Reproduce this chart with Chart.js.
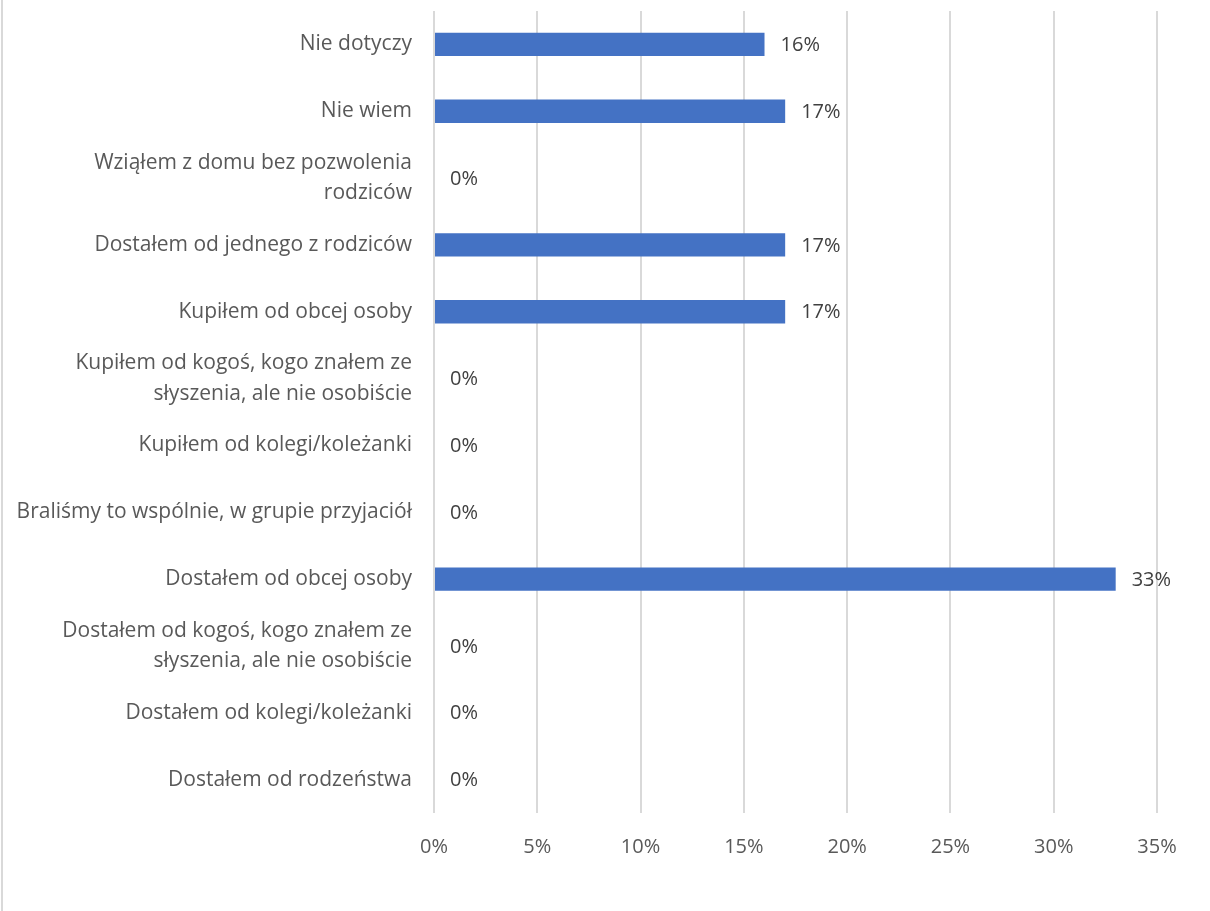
<!DOCTYPE html>
<html>
<head>
<meta charset="utf-8">
<script src="https://cdn.jsdelivr.net/npm/chart.js@4"></script>
<style>
  body { margin: 0; background: #fff; }
  #wrap { position: relative; width: 1210px; height: 911px; }
  #edge { position: absolute; left: 1px; top: 0; width: 2px; height: 911px; background: #d9d9d9; }
</style>
</head>
<body>
<div id="wrap">
  <canvas id="chart" width="1210" height="911"></canvas>
  <div id="edge"></div>
</div>
<script>
const categories = [
  "Nie dotyczy",
  "Nie wiem",
  ["Wziąłem z domu bez pozwolenia", "rodziców"],
  "Dostałem od jednego z rodziców",
  "Kupiłem od obcej osoby",
  ["Kupiłem od kogoś, kogo znałem ze", "słyszenia, ale nie osobiście"],
  "Kupiłem od kolegi/koleżanki",
  "Braliśmy to wspólnie, w grupie przyjaciół",
  "Dostałem od obcej osoby",
  ["Dostałem od kogoś, kogo znałem ze", "słyszenia, ale nie osobiście"],
  "Dostałem od kolegi/koleżanki",
  "Dostałem od rodzeństwa"
];
const values = [16, 17, 0, 17, 17, 0, 0, 0, 33, 0, 0, 0];
const xTicks = [0, 5, 10, 15, 20, 25, 30, 35];

const FONT = "'Open Sans', sans-serif";

// value labels at the end of each bar
const valueLabels = {
  id: "valueLabels",
  afterDatasetsDraw(chart) {
    const ctx = chart.ctx;
    const meta = chart.getDatasetMeta(0);
    ctx.save();
    ctx.font = "20px " + FONT;
    ctx.fillStyle = "#404040";
    ctx.textAlign = "left";
    ctx.textBaseline = "middle";
    meta.data.forEach((bar, i) => {
      ctx.fillText(values[i] + "%", bar.x + 16, bar.y + 1);
    });
    ctx.restore();
  }
};

new Chart(document.getElementById("chart"), {
  type: "bar",
  data: {
    labels: categories,
    datasets: [{
      data: values,
      backgroundColor: "#4472C4",
      borderWidth: 0,
      categoryPercentage: 1,
      barPercentage: 0.35
    }]
  },
  options: {
    indexAxis: "y",
    responsive: false,
    animation: false,
    layout: { padding: { top: 11, right: 53, bottom: 30, left: 0 } },
    plugins: { legend: { display: false }, tooltip: { enabled: false } },
    scales: {
      x: {
        min: 0,
        max: 35,
        afterBuildTicks: (scale) => { scale.ticks = xTicks.map(v => ({ value: v })); },
        grid: { color: "#d9d9d9", lineWidth: 2, drawTicks: false },
        border: { display: false },
        ticks: {
          padding: 22,
          color: "#595959",
          maxRotation: 0,
          font: { family: FONT, size: 20 },
          callback: (v) => v + "%"
        }
      },
      y: {
        grid: { display: false, drawTicks: false },
        border: { display: false },
        afterFit: (scale) => {
          scale.width = 434;
          scale.paddingTop = 0;
          scale.paddingBottom = 0;
        },
        ticks: {
          autoSkip: false,
          padding: 22,
          color: "#595959",
          font: { family: FONT, size: 21, lineHeight: 1.45 }
        }
      }
    }
  },
  plugins: [valueLabels]
});
</script>
</body>
</html>
